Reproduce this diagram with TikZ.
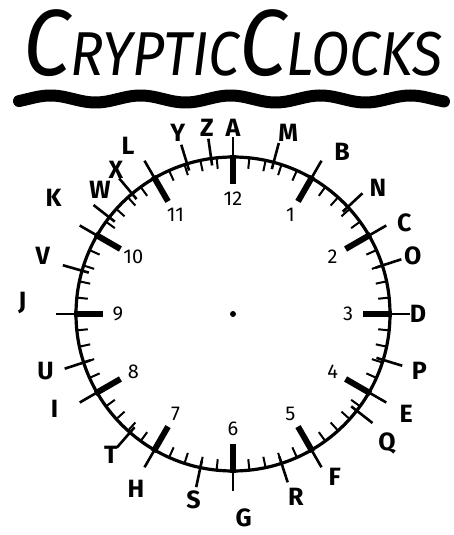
\documentclass[tikz,border=0pt]{standalone}
\usepackage{fontspec}
\setmainfont{Fira Sans}
\tikzset{
  rim/.style={line width=3.2pt},
  minortick/.style={line width=2pt},
  hourtick/.style={line width=6pt},
  lettertick/.style={line width=2.6pt},
  letterlabel/.style={font=\fontsize{25}{25}\selectfont\bfseries},
  numlabel/.style={font=\fontsize{20}{20}\selectfont},
  brush/.style={line width=12pt,line cap=round}
}
\begin{document}
\begin{tikzpicture}[x=1pt,y=1pt]
\useasboundingbox (-233,-221) rectangle (221,314);
% title and wavy underline
\node[anchor=base,font=\itshape,xscale=0.9] (title) at (0,238) {\fontsize{94}{94}\selectfont C\fontsize{62}{62}\selectfont RYPTIC\fontsize{94}{94}\selectfont C\fontsize{62}{62}\selectfont LOCKS};
\draw[brush] plot[smooth,domain=-214:211,samples=90] (\x,{215+3.5*sin(4*(\x+25))});
% clock face
\coordinate (O) at (0,0);
\draw[rim] (O) circle (157);
\fill (O) circle (3);
\foreach \m in {0,...,59} \draw[minortick] (90-6*\m:146) -- (90-6*\m:157);
% hours
\foreach \h in {1,...,12} {
  \draw[hourtick] (90-30*\h:130) -- (90-30*\h:159);
  \node[numlabel] (n\h) at (90-30*\h:115) {\h};
}
% letters: name / tick angle / label angle / label radius
\foreach \l/\t/\ang/\r in {A/0/0/186, M/15/17/189, B/30/34/195, N/47/49/192, C/60/62/194, O/72/72/189,
    D/90/90/185, P/107/107/195, E/120/120/200, Q/128/130/201, F/150/148/192, R/162/161/193,
    G/180/177/204, S/192/192/190, H/210/209/200, T/221/221/186, I/240/242/202, U/252/253/196,
    J/270/273/211, V/286/287/199, K/300/303/214, W/308/313/182, X/320/321/186, L/330/328/198,
    Y/343/343/189, Z/352/352/188} {
  \draw[lettertick] (90-\t:150) -- (90-\t:177);
  \node[letterlabel] (\l) at (90-\ang:\r) {\l};
}
\end{tikzpicture}
\end{document}
